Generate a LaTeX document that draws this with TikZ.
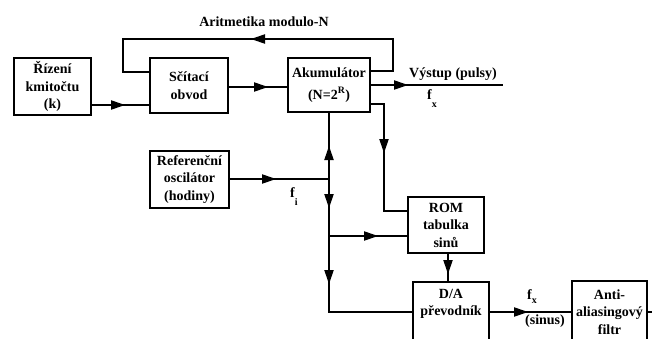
\documentclass[tikz,border=0pt]{standalone}
\usepackage{fontspec}
\setmainfont{Liberation Serif}
\begin{document}
\begin{tikzpicture}[x=1pt,y=-1pt,
  box/.style={draw, line width=2.6pt, align=center, inner sep=0pt,
    font=\fontsize{14}{17.5}\selectfont\bfseries},
  conn/.style={line width=1.3pt},
  lbl/.style={font=\fontsize{14}{17.5}\selectfont\bfseries, inner sep=0pt},
  ah/.pic={\fill (1,0) -- (-13,4.8) -- (-13,-4.8) -- cycle;}]
\useasboundingbox (0,0) rectangle (652,338);
\clip (0,0) rectangle (652,338);
% blocks
\node[box, minimum width=77pt, minimum height=57pt] (riz) at (52.5,86.5) {Řízení\\kmitočtu\\(k)};
\node[box, minimum width=78pt, minimum height=55pt] (sci) at (189,85.5) {Sčítací\\obvod};
\node[box, minimum width=82pt, minimum height=54pt] (aku) at (329,85) {Akumulátor\\[4pt](N=2\textsuperscript{R})};
\node[box, minimum width=79pt, minimum height=57pt] (ref) at (189.5,179.5) {Referenční\\oscilátor\\(hodiny)};
\node[box, minimum width=76pt, minimum height=56pt] (rom) at (446,225) {ROM\\tabulka\\sinů};
\node[box, minimum width=76pt, minimum height=62pt] (da) at (451,313) {D/A\\převodník\\[4pt]};
\node[box, minimum width=75pt, minimum height=62pt] (anti) at (609.5,312) {Anti-\\aliasingový\\filtr};
% helper coordinates
\coordinate (fbR) at (393,39);
\coordinate (fbL) at (123,39);
\coordinate (out) at (503,85);
\coordinate (rt) at (384,211);
\coordinate (vb) at (329,312);
\coordinate (jr) at (329,179);
\coordinate (jb) at (329,236);
\coordinate (aout) at (652,312);
% connectors
\draw[conn] (riz.east |- 0,105) -- (sci.west |- 0,105);
\draw[conn] (sci.east |- 0,87) -- (aku.west |- 0,87);
\draw[conn] (aku.east |- 0,71) -| (fbR) -- (fbL) |- (sci.west |- 0,72);
\draw[conn] (aku.east |- 0,85) -- (out);
\draw[conn] (aku.east |- 0,104) -| (rt) -- (rom.west |- rt);
\draw[conn] (aku.south) -- (vb) -- (da.west |- vb);
\draw[conn] (ref.east |- jr) -- (jr);
\draw[conn] (jb) -- (rom.west |- jb);
\draw[conn] (rom.south -| 448,0) -- (da.north -| 448,0);
\draw[conn] (da.east |- vb) -- (anti.west |- vb);
\draw[conn] (anti.east |- aout) -- (aout);
% arrowheads
\pic at (124,105) {ah};
\pic at (267,87) {ah};
\pic[rotate=180] at (252,39) {ah};
\pic at (407,85) {ah};
\pic[rotate=-90] at (384,152) {ah};
\pic[rotate=90] at (329,147) {ah};
\pic at (275,179) {ah};
\pic[rotate=-90] at (329,207) {ah};
\pic[rotate=-90] at (329,283) {ah};
\pic at (377,236) {ah};
\pic[rotate=-90] at (448,273) {ah};
\pic at (527,312) {ah};
% labels
\node[lbl] (lar) at (264,22) {Aritmetika modulo-N};
\node[lbl] (lvy) at (453,74) {Výstup (pulsy)};
\node[lbl, anchor=base west] (lfx) at (427,99) {f\raisebox{-8pt}{\fontsize{10}{10}\selectfont x}};
\node[lbl, anchor=base west] (lfi) at (290,197) {f\raisebox{-8pt}{\fontsize{10}{10}\selectfont i}};
\node[lbl, anchor=base west] (lfx2) at (527,299) {f\raisebox{-4pt}{\fontsize{10}{10}\selectfont x}};
\node[lbl] (lsin) at (545,321) {(sinus)};
\end{tikzpicture}
\end{document}
